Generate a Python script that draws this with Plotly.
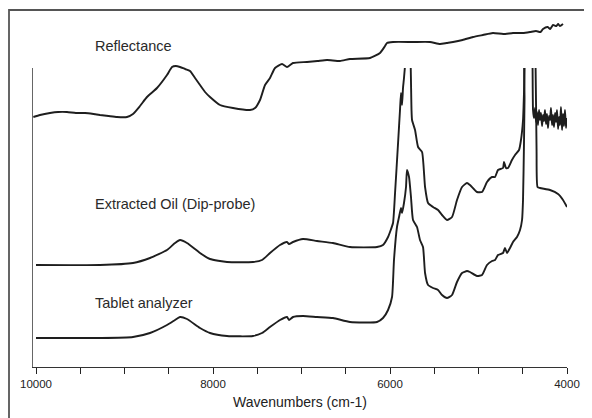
import plotly.graph_objects as go

# ---- data (wavenumber cm-1, arbitrary absorbance units) ----
reflectance = [
    (10030, 2.50), (9955, 2.52), (9842, 2.54), (9750, 2.55), (9650, 2.55), (9550, 2.54),
    (9446, 2.54), (9350, 2.53), (9277, 2.52), (9180, 2.51), (9085, 2.50), (8972, 2.50),
    (8904, 2.53), (8825, 2.61), (8746, 2.70), (8633, 2.79), (8520, 2.92), (8463, 3.00),
    (8420, 3.01), (8373, 3.00), (8316, 2.98), (8260, 2.96), (8203, 2.89), (8147, 2.82),
    (8090, 2.75), (8034, 2.70), (7921, 2.62), (7774, 2.59), (7582, 2.57), (7525, 2.59),
    (7469, 2.67), (7412, 2.82), (7356, 2.89), (7299, 2.99), (7220, 3.03), (7164, 3.00),
    (7096, 3.04), (6938, 3.05), (6820, 3.06), (6712, 3.07), (6565, 3.06), (6452, 3.08),
    (6226, 3.09), (6113, 3.14), (6056, 3.21), (6034, 3.24), (5966, 3.25), (5740, 3.25),
    (5548, 3.25), (5435, 3.23), (5360, 3.24), (5288, 3.25), (5180, 3.27), (5062, 3.30),
    (4950, 3.32), (4836, 3.34), (4720, 3.33), (4610, 3.34), (4500, 3.34), (4418, 3.35),
    (4350, 3.36), (4300, 3.35), (4271, 3.38), (4220, 3.40), (4190, 3.38), (4158, 3.42),
    (4120, 3.41), (4100, 3.43), (4080, 3.41), (4045, 3.43),
]

extracted_oil = [
    (10000, 1.02), (9277, 1.02), (8904, 1.04), (8712, 1.09), (8520, 1.17), (8429, 1.24),
    (8373, 1.27), (8294, 1.24), (8147, 1.14), (8034, 1.08), (7842, 1.05), (7548, 1.05),
    (7446, 1.07), (7356, 1.14), (7243, 1.22), (7164, 1.25), (7141, 1.23), (7096, 1.25),
    (6983, 1.28), (6825, 1.26), (6644, 1.24), (6452, 1.20), (6147, 1.20), (6079, 1.22),
    (6022, 1.30), (6000, 1.35), (5966, 1.44), (5943, 1.74), (5909, 2.24), (5887, 2.57),
    (5876, 2.74), (5864, 2.62), (5853, 2.79), (5842, 2.89), (5825, 3.07), (5796, 3.47),
    (5768, 3.07), (5757, 2.57), (5751, 2.47), (5717, 2.37), (5683, 2.20), (5638, 2.15),
    (5604, 1.80), (5570, 1.64), (5514, 1.60), (5457, 1.57), (5412, 1.52), (5356, 1.47),
    (5299, 1.50), (5243, 1.67), (5186, 1.80), (5130, 1.84), (5096, 1.82), (5017, 1.75),
    (4960, 1.75), (4904, 1.85), (4847, 1.90), (4813, 1.90), (4780, 1.97), (4723, 1.99),
    (4712, 2.05), (4689, 1.99), (4667, 1.99), (4622, 2.07), (4587, 2.12), (4542, 2.17),
    (4520, 2.27), (4497, 2.47), (4486, 2.74), (4475, 3.17), (4452, 3.57), (4407, 3.57),
    (4390, 3.07), (4384, 2.57),
    (4373, 2.49), (4361, 2.59), (4350, 2.45), (4339, 2.55), (4328, 2.42), (4316, 2.57),
    (4305, 2.47), (4294, 2.54), (4282, 2.41), (4271, 2.52), (4260, 2.46), (4249, 2.57),
    (4237, 2.43), (4226, 2.53), (4215, 2.39), (4203, 2.51), (4192, 2.47), (4181, 2.59),
    (4169, 2.42), (4158, 2.52), (4147, 2.40), (4135, 2.54), (4124, 2.45), (4113, 2.57),
    (4101, 2.38), (4090, 2.50), (4079, 2.42), (4068, 2.60), (4056, 2.37), (4045, 2.53),
    (4034, 2.41), (4023, 2.57), (4011, 2.39), (4000, 2.49),
]

tablet = [
    (10000, 0.29), (9277, 0.29), (8904, 0.30), (8712, 0.34), (8520, 0.42), (8429, 0.47),
    (8373, 0.50), (8294, 0.48), (8147, 0.39), (8034, 0.34), (7842, 0.31), (7548, 0.31),
    (7446, 0.34), (7356, 0.40), (7243, 0.47), (7164, 0.50), (7141, 0.47), (7096, 0.50),
    (6983, 0.51), (6825, 0.50), (6644, 0.49), (6452, 0.45), (6147, 0.45), (6079, 0.49),
    (6022, 0.57), (5977, 0.70), (5955, 1.07), (5921, 1.40), (5898, 1.50), (5876, 1.59),
    (5864, 1.54), (5842, 1.64), (5819, 1.80), (5808, 1.97), (5785, 1.90), (5763, 1.70),
    (5740, 1.47), (5695, 1.40), (5661, 1.27), (5627, 1.20), (5604, 0.94), (5570, 0.82),
    (5514, 0.79), (5457, 0.77), (5412, 0.72), (5356, 0.69), (5299, 0.72), (5243, 0.85),
    (5186, 0.94), (5130, 0.96), (5096, 0.95), (5017, 0.91), (4960, 0.92), (4904, 1.02),
    (4847, 1.06), (4813, 1.07), (4780, 1.12), (4723, 1.14), (4701, 1.19), (4678, 1.14),
    (4644, 1.19), (4610, 1.25), (4565, 1.30), (4531, 1.37), (4508, 1.47), (4497, 1.67),
    (4486, 2.24), (4480, 2.67), (4464, 3.47), (4373, 3.47), (4356, 3.07), (4344, 2.17),
    (4333, 1.80), (4305, 1.79), (4192, 1.77), (4101, 1.73), (4045, 1.67), (4000, 1.60),
]

labels = ["Reflectance", "Extracted Oil (Dip-probe)", "Tablet analyzer"]
label_pos = [(9356, 3.21), (9356, 1.63), (9356, 0.64)]
tick_vals = [10000, 8000, 6000, 4000]
tick_text = ["10000", "8000", "6000", "4000"]
x_title = "Wavenumbers (cm-1)"

LINE = "#1e1e1e"
FONT = "Liberation Sans, Arial, sans-serif"

fig = go.Figure()
for series, yax in [(reflectance, "y2"), (extracted_oil, "y"), (tablet, "y")]:
    xs, ys = zip(*series)
    fig.add_trace(go.Scatter(x=list(xs), y=list(ys), mode="lines", xaxis="x", yaxis=yax,
                             line=dict(color=LINE, width=1.9, shape="spline", smoothing=0.5),
                             showlegend=False, hoverinfo="skip"))

annotations = []
for txt, (ax, ay), yref in zip(labels, label_pos, ["y2", "y", "y"]):
    annotations.append(dict(text=txt, x=ax, y=ay, xref="x", yref=yref, showarrow=False,
                            xanchor="left", yanchor="middle",
                            font=dict(family=FONT, size=14.5, color="#2a2a2a")))

# page body has an 8px default margin: figure is drawn 8px right/down
OFF = 8
W, H = 592 - OFF, 418 - OFF
PL, PR, PT, PB = 33, 567, 15, 367   # plot area in window pixels
ph = PB - PT
pw = PR - PL

fig.update_layout(
    width=W, height=H,
    margin=dict(l=PL - OFF, r=W - (PR - OFF), t=PT - OFF, b=H - (PB - OFF), autoexpand=False),
    paper_bgcolor="white", plot_bgcolor="rgba(0,0,0,0)",
    font=dict(family=FONT, color="#222222"),
    xaxis=dict(range=[10034, 4000], anchor="y", showgrid=False, zeroline=False,
               showline=True, linecolor="#333333", linewidth=1.2, automargin=False,
               tickmode="array", tickvals=tick_vals, ticktext=tick_text,
               ticks="outside", ticklen=6, tickwidth=1.4, tickcolor="#222222",
               tickfont=dict(size=11.5, family=FONT, color="#222222"),
               minor=dict(tickmode="linear", tick0=4000, dtick=500, ticks="outside",
                          ticklen=6, tickwidth=1.4, tickcolor="#222222"),
               title=dict(text=x_title, font=dict(size=14, family=FONT, color="#222222"),
                          standoff=8)),
    yaxis=dict(domain=[0, (PB - 68) / ph], range=[0, (PB - 68) / 100], automargin=False,
               showgrid=False, zeroline=False, showticklabels=False, ticks="",
               showline=True, linecolor="#666666", linewidth=1.2),
    yaxis2=dict(domain=[(PB - 135) / ph, 1], range=[(PB - 135) / 100, (PB - PT) / 100],
                anchor="x", visible=False, showgrid=False, zeroline=False),
    annotations=annotations,
    shapes=[dict(type="rect", xref="paper", yref="paper",
                 x0=(9 - PL) / pw, x1=(640 - PL) / pw,
                 y0=(PB - 460) / ph, y1=(PB - 10) / ph,
                 line=dict(color="#555555", width=1.8), fillcolor="rgba(0,0,0,0)")],
)

fig.write_html("out.html")
